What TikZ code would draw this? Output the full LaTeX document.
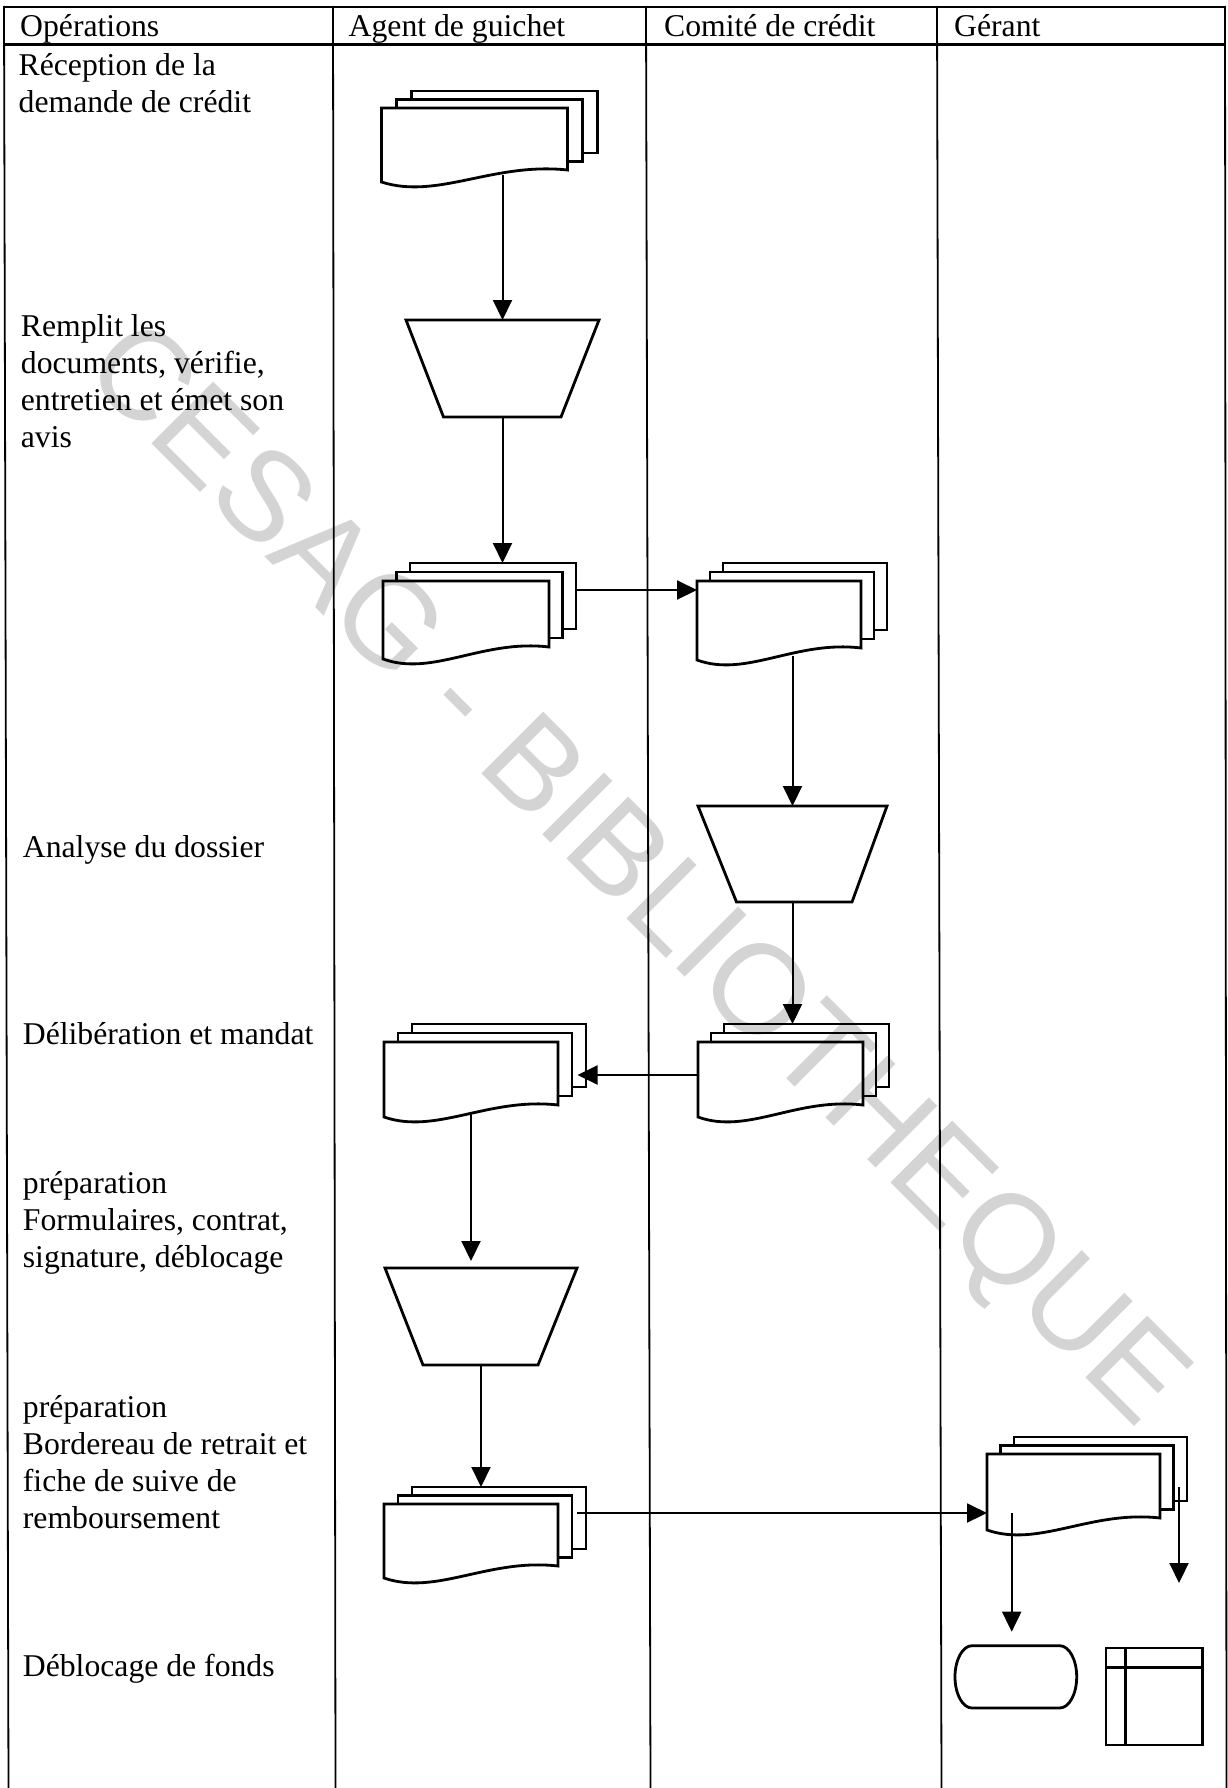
\documentclass[tikz,border=0pt]{standalone}
\usepackage{fontspec}
\setmainfont{Liberation Serif}
\newfontfamily\wmfont{Liberation Sans}
\usetikzlibrary{arrows.meta,calc}
\definecolor{wmgray}{RGB}{212,212,212}
\newcommand\diagfont{\fontsize{31.7pt}{37pt}\selectfont}
\newcommand\natsp{\spaceskip=0pt\xspaceskip=0pt\relax}
% multi-document: #1 name, #2 x, #3 y (top of front sheet), #4 width, #5 left height, #6 dx, #7 dy
\newcommand\mdoc[7]{%
  \node[box, minimum width=#4, minimum height=#5, anchor=north west] (#1) at (#2,#3) {};
  \node[box, minimum width=#4, minimum height=#5-12, anchor=north west] (#1b) at (#2+#6,#3-#7) {};
  \node[box, minimum width=#4, minimum height=#5-12, anchor=north west] (#1c) at (#2+2*#6,#3-2*#7) {};
  \draw[shp] (#2+2*#6,#3-#7) -- (#2+2*#6,#3-2*#7) -- (#2+#4+2*#6,#3-2*#7) -- (#2+#4+2*#6,#3+#5-12-2*#7) -- (#2+#4+#6,#3+#5-12-2*#7);
  \draw[shp] (#2+#6,#3) -- (#2+#6,#3-#7) -- (#2+#4+#6,#3-#7) -- (#2+#4+#6,#3+#5-12-#7) -- (#2+#4,#3+#5-12-#7);
  \draw[shp] (#2,#3) -- (#2+#4,#3) -- (#2+#4,#3+#5-12) .. controls (#2+0.6*#4,#3+#5-20) and (#2+0.3*#4,#3+#5+18) .. (#2,#3+#5) -- cycle;
}
\begin{document}
\begin{tikzpicture}[x=1pt,y=-1pt,
  shp/.style={line width=2.8pt},
  conn/.style={line width=2pt},
  arr/.style={conn,-{Triangle[length=20pt,width=19pt]}},
  grid/.style={line width=1.8pt},
  box/.style={inner sep=0pt,outer sep=0pt,draw=none},
  lbl/.style={anchor=base west,inner sep=0pt,text width=305pt,align=left,font=\diagfont},
  hdr/.style={anchor=base west,inner sep=0pt,font=\diagfont},
]
\fill[white] (0,0) rectangle (1228,1788);
\useasboundingbox (0,0) rectangle (1228,1788);

% watermark
\node[rotate=-45, anchor=base west, inner sep=0pt, text=wmgray,
      font=\wmfont\fontsize{127pt}{127pt}\selectfont] (wm) at (80,372) {CESAG - BIBLIOTHEQUE};

% table
\draw[grid, line width=2.4pt] (4,7) -- (1226,7);
\draw[grid, line width=2.4pt] (4,44.5) -- (1226,44.5);
\draw[grid] (4,6) -- (8.5,1788);
\draw[grid] (333,6) -- (335.5,1788);
\draw[grid] (646,6) -- (650.5,1788);
\draw[grid] (937,6) -- (941.5,1788);
\draw[grid] (1225,6) -- (1226.5,1788);

% headers
\node[hdr] (h1) at (20,36) {Opérations};
\node[hdr] (h2) at (348.5,36) {Agent de guichet};
\node[hdr] (h3) at (664,36) {Comité de crédit};
\node[hdr] (h4) at (954,36) {Gérant};

% operations
\node[lbl] (o1) at (18.5,75.5) {\natsp Réception de la\\demande de crédit};
\node[lbl] (o2) at (20.7,336) {\natsp Remplit les\\documents, vérifie,\\entretien et émet son\\avis};
\node[lbl] (o3) at (22.7,857.5) {\natsp Analyse du dossier};
\node[lbl] (o4) at (22.7,1044.5) {\natsp Délibération et mandat};
\node[lbl] (o5) at (22.7,1193.5) {\natsp préparation\\Formulaires, contrat,\\signature, déblocage};
\node[lbl] (o6) at (22.7,1417) {\natsp préparation\\Bordereau de retrait et\\fiche de suive de\\remboursement};
\node[lbl] (o7) at (22.7,1676) {\natsp Déblocage de fonds};

% multi-documents
\mdoc{A}{381.5}{108}{186}{74}{15}{8.5}
\mdoc{C}{383}{581}{166}{78}{13.5}{9}
\mdoc{D}{697}{581}{164}{79}{13}{9}
\mdoc{F}{698}{1042}{165}{75}{13}{9}
\mdoc{G}{384}{1042}{174}{75}{14}{9}
\mdoc{I}{384}{1504}{174}{74}{14}{8.5}
\mdoc{J}{987}{1454}{173}{76}{13.5}{8.5}

% manual operations (trapezoids)
\node[box, minimum width=193, minimum height=97, anchor=north west] (B1) at (406,320) {};
\draw[shp] (B1.north west) -- (B1.north east) -- ($(B1.south east)+(-38,0)$) -- ($(B1.south west)+(37.5,0)$) -- cycle;
\node[box, minimum width=189, minimum height=96, anchor=north west] (E) at (698,806) {};
\draw[shp] (E.north west) -- (E.north east) -- ($(E.south east)+(-35,0)$) -- ($(E.south west)+(38.5,0)$) -- cycle;
\node[box, minimum width=192, minimum height=97, anchor=north west] (H) at (385,1268) {};
\draw[shp] (H.north west) -- (H.north east) -- ($(H.south east)+(-39,0)$) -- ($(H.south west)+(38,0)$) -- cycle;

% terminator
\node[box, minimum width=121.7, minimum height=62.3, anchor=north west] (K) at (955,1645.7) {};
\draw[shp] ($(K.north west)+(17,0)$) -- ($(K.north east)+(-17,0)$)
  arc[start angle=-90, end angle=90, x radius=17, y radius=31.15]
  -- ($(K.south west)+(17,0)$)
  arc[start angle=90, end angle=270, x radius=17, y radius=31.15] -- cycle;

% storage table
\node[box, draw, shp, minimum width=96.7, minimum height=97, anchor=north west] (L) at (1106,1648) {};
\draw[shp] ($(L.north west)+(19.7,0)$) -- ($(L.south west)+(19.7,0)$);
\draw[shp] ($(L.north west)+(0,19.7)$) -- ($(L.north east)+(0,19.7)$);

% connectors
\draw[arr, shorten <=-7pt] (B1.north |- A.south) -- (B1.north);
\draw[arr] (B1.south) -- (B1.south |- Cc.north);
\coordinate (cd) at ($(D.north west)+(0,9)$);
\draw[arr] (cd -| Cc.east) -- (cd);
\draw[arr, shorten <=-4.5pt] (E.north |- D.south) -- (E.north);
\draw[arr] (E.south) -- (E.south |- Fc.north);
\coordinate (fg) at ($(F.north west)+(0,33)$);
\draw[arr, shorten >=-8.5pt] (fg) -- (fg -| Gc.east);
\draw[arr, shorten <=-3pt, shorten >=7pt] (G.south) -- (G.south |- H.north);
\draw[arr] (H.south) -- (H.south |- Ic.north);
\coordinate (ij) at (577,1513);
\draw[arr] (ij) -- (ij -| J.west);
\coordinate (jk) at (1011.7,1513);
\draw[arr, shorten >=14pt] (jk) -- (jk |- K.north);
\coordinate (jr) at (1179,1487);
\coordinate (jre) at (1179,1583);
\draw[arr] (jr) -- (jre);
\end{tikzpicture}
\end{document}
